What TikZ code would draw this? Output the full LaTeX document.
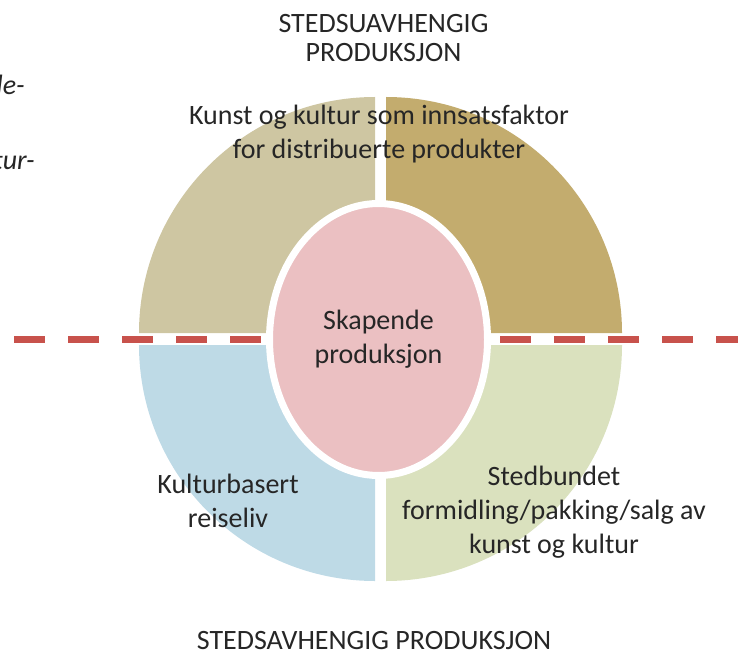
\documentclass[tikz,border=0pt]{standalone}
\usepackage{fontspec}
\setmainfont{Carlito}
\usetikzlibrary{shapes.geometric,calc}

\definecolor{kvTV}{RGB}{206,198,162}
\definecolor{kvTH}{RGB}{195,172,110}
\definecolor{kvBV}{RGB}{190,218,230}
\definecolor{kvBH}{RGB}{218,225,190}
\definecolor{rosa}{RGB}{235,192,194}
\definecolor{skillerod}{RGB}{200,82,76}

\tikzset{
    tekst/.style={font=\fontsize{28}{34}\selectfont, text=black!85, align=center, inner sep=0pt, anchor=base},
    tittel/.style={tekst, font=\fontsize{28}{29}\selectfont},
    brokk/.style={tekst, font=\fontsize{28}{34}\selectfont\itshape, anchor=base east},
    kjerne/.style={tekst, ellipse, anchor=center, fill=rosa, draw=white, line width=7pt,
        minimum width=218pt, minimum height=272pt},
    skille/.style={draw=skillerod, line width=7pt, dash pattern=on 31pt off 23pt},
}

\begin{document}
\begin{tikzpicture}[x=1pt, y=1pt]
            \clip (0,0) rectangle (738,657);
            \coordinate (midt) at (380.5,318);

            % Kvadranter
            \foreach \a/\farge/\dx/\dy in {90/kvTV/-5.5/6, 0/kvTH/5.5/6, 180/kvBV/-5.5/-6, 270/kvBH/5.5/-6} {
                    \fill[\farge] ($(midt)+(\dx,\dy)$) -- ++(\a:236) arc[start angle=\a, delta angle=90, radius=236] -- cycle;
                }

            % Stiplet skillelinje
            \coordinate (skilleV) at (14,318);
            \coordinate (skilleH) at (760,318);
            \draw[skille] (skilleV) -- (skilleH);

            % Kjernen
            \node[kjerne] (skapende) at (378.5,317.5) {Skapende\\produksjon};

            % Tekster (base = siste linje)
            \node[tittel] (stedsuavh) at (383.5,595) {STEDSUAVHENGIG\\PRODUKSJON};
            \node[tekst] (innsats) at (379,498) {Kunst og kultur som innsatsfaktor\\for distribuerte produkter};
            \node[tekst] (reiseliv) at (228,130) {Kulturbasert\\reiseliv};
            \node[tekst] (stedbundet) at (554,104) {Stedbundet\\formidling/pakking/salg av\\kunst og kultur};
            \node[tittel] (stedsavh) at (374,8) {STEDSAVHENGIG PRODUKSJON};

            % Avkuttet tekst i venstre kant
            \node[brokk] (brokkA) at (25,562) {de-};
            \node[brokk] (brokkB) at (35,487) {tur-};
        \end{tikzpicture}
\end{document}
